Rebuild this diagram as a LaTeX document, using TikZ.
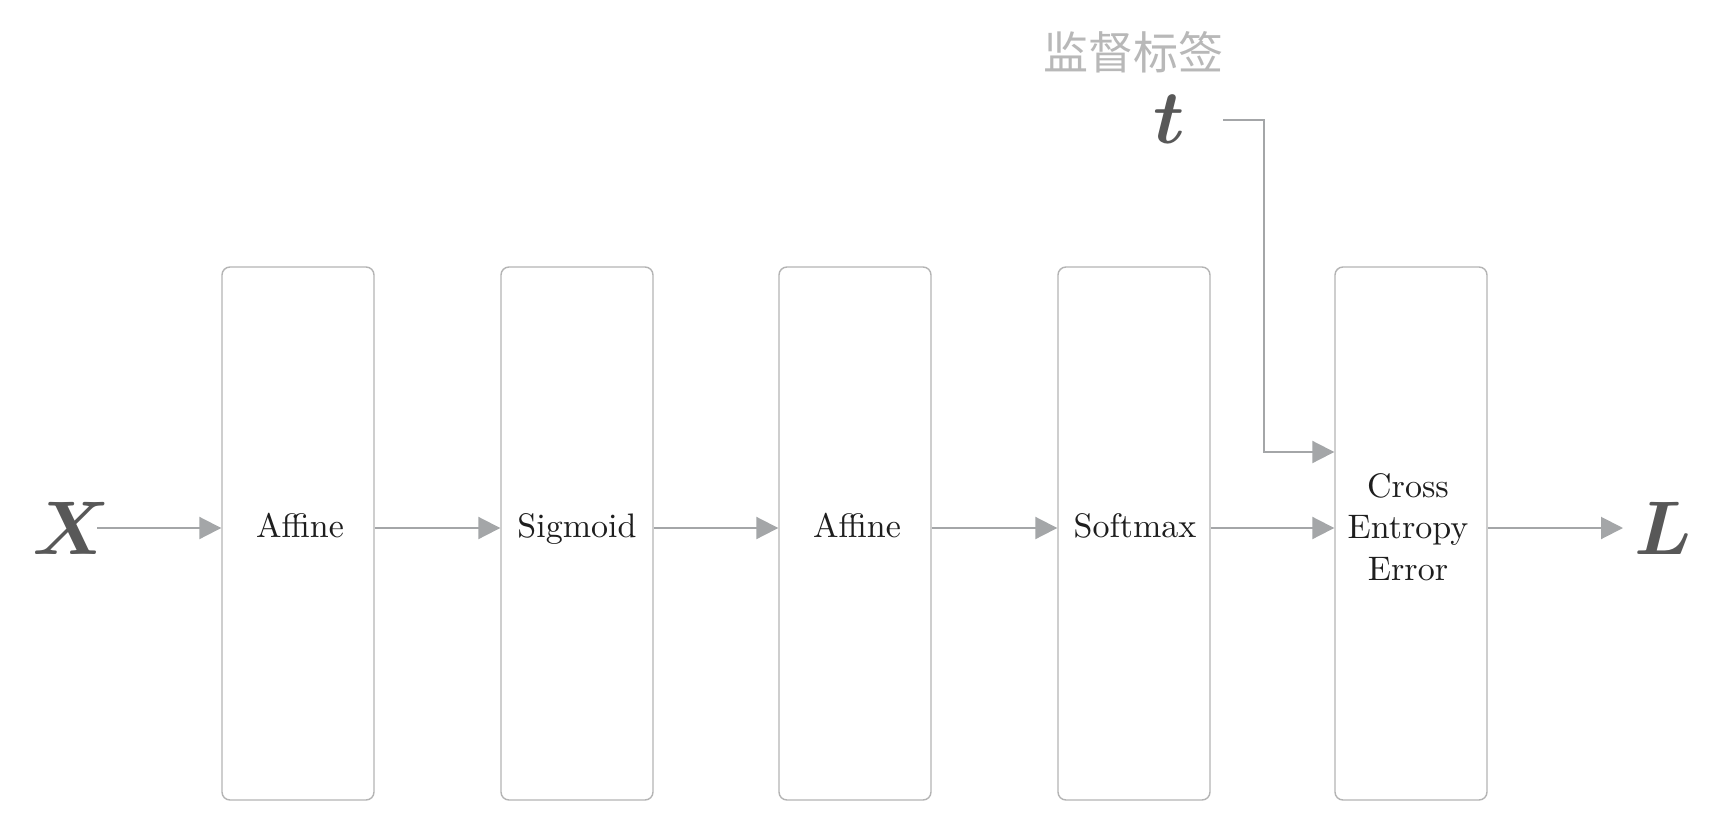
\RequirePackage{fix-cm}
\documentclass[tikz,border=0pt]{standalone}
\usepackage{bm}
\usepackage{fontspec}
\newfontfamily\cjk{Noto Sans CJK SC}
\newfontfamily\lmten[Extension=.otf]{lmroman10-regular}
\usetikzlibrary{arrows.meta}
\definecolor{boxline}{HTML}{B4B4B4}
\definecolor{arrowcol}{HTML}{A4A6A8}
\definecolor{bigvar}{HTML}{585858}
\definecolor{cjkgrey}{HTML}{B8B8B8}
\definecolor{boxtext}{HTML}{1E1E1E}
\tikzset{
  layer/.style={draw=boxline, line width=0.7pt, rounded corners=4pt,
    minimum width=76pt, minimum height=266.5pt, inner sep=0pt},
  lbl/.style={font=\lmten\fontsize{17}{20.75}\selectfont, text=boxtext, align=center, inner sep=0pt},
  arr/.style={draw=arrowcol, line width=1pt,
    -{Triangle[length=11pt,width=11pt]}},
  bigvar/.style={text=bigvar, inner sep=0pt, font=\fontsize{38}{40}\selectfont}
}
\begin{document}
\begin{tikzpicture}[x=0.5pt,y=-0.5pt]
\useasboundingbox (0,0) rectangle (1726,836);
\fill[white] (0,0) rectangle (1726,836);
% layer boxes
\node[layer] (b1) at (298,533.5) {};
\node[layer] (b2) at (577,533.5) {};
\node[layer] (b3) at (855,533.5) {};
\node[layer] (b4) at (1134,533.5) {};
\node[layer] (b5) at (1411,533.5) {};
% labels
\node[lbl, anchor=base] (l1) at (300,537) {Affine};
\node[lbl, anchor=base] (l2) at (577,537) {Sigmoid};
\node[lbl, anchor=base] (l3) at (857,537) {Affine};
\node[lbl, anchor=base] (l4) at (1135,537) {Softmax};
\node[lbl] (l5) at (1408,527) {Cross\\Entropy\\Error};
% variables
\node[bigvar, anchor=east] (X) at (111,528) {$\bm{X}$};
\node[bigvar, anchor=west] (L) at (1634,528) {$\bm{L}$};
\node[bigvar, anchor=base] (t) at (1169,143) {$\bm{t}$};
\node[text=cjkgrey, font=\cjk\fontsize{22.5}{24}\selectfont, inner sep=0pt] (sup) at (1133,52) {监督标签};
% connectors
\coordinate (xs) at (97,528);
\draw[arr] (xs) -- (xs -| b1.west);
\draw[arr] (b1.east |- xs) -- (b2.west |- xs);
\draw[arr] (b2.east |- xs) -- (b3.west |- xs);
\draw[arr] (b3.east |- xs) -- (b4.west |- xs);
\draw[arr] (b4.east |- xs) -- (b5.west |- xs);
\coordinate (le) at (1623,528);
\draw[arr] (b5.east |- xs) -- (le);
\coordinate (ts) at (1223,120);
\coordinate (tc) at (1264,452);
\draw[arr] (ts) -| (tc) -- (tc -| b5.west);
\end{tikzpicture}
\end{document}
